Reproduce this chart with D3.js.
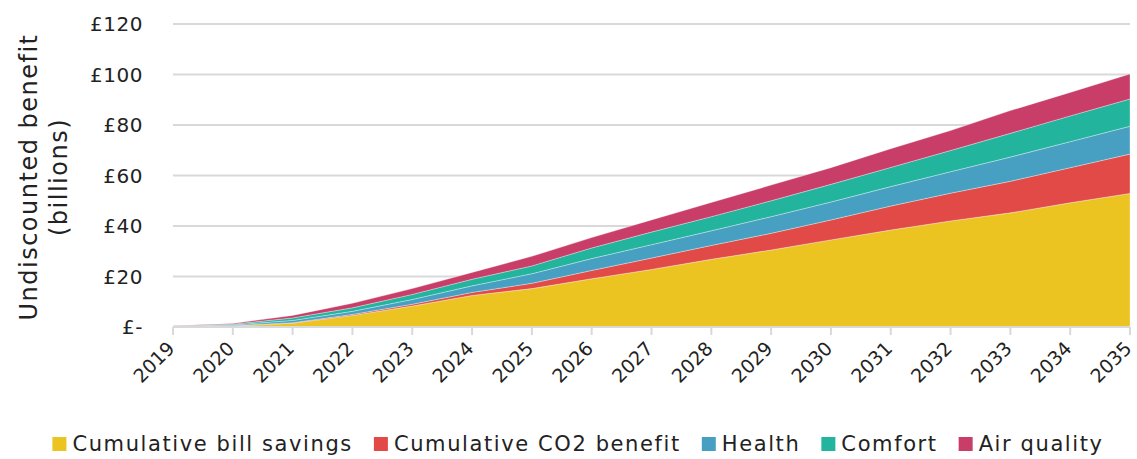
<!DOCTYPE html>
<html>
<head>
<meta charset="utf-8">
<script src="https://cdn.jsdelivr.net/npm/d3@7"></script>
<style>
  body { margin: 0; background: #fff; }
  text { font-family: "DejaVu Sans", sans-serif; fill: #222; }
</style>
</head>
<body>
<svg id="chart" width="1137" height="459"></svg>
<script>
var years = [2019, 2020, 2021, 2022, 2023, 2024, 2025, 2026, 2027, 2028, 2029, 2030, 2031, 2032, 2033, 2034, 2035];

var billSavings = [0.1, 0.4, 1.5, 4.6, 8.3, 12.5, 15.2, 19.1, 22.8, 26.8, 30.5, 34.5, 38.4, 42.0, 45.2, 49.2, 52.9];
var co2Benefit  = [0.05, 0.1, 0.2, 0.4, 0.7, 1.2, 2.1, 3.3, 4.5, 5.5, 6.6, 7.9, 9.5, 11.0, 12.5, 13.9, 15.6];
var health      = [0.1, 0.3, 0.9, 1.2, 1.9, 2.6, 3.8, 4.7, 5.3, 5.8, 6.6, 7.1, 7.7, 8.5, 9.6, 10.3, 11.0];
var comfort     = [0.1, 0.3, 1.0, 1.4, 2.0, 2.6, 3.1, 4.2, 5.0, 5.6, 6.3, 7.0, 7.6, 8.4, 9.4, 10.2, 10.8];
var airQuality  = [0.1, 0.3, 1.0, 1.8, 2.3, 2.7, 3.8, 4.1, 4.8, 5.6, 6.2, 6.6, 7.4, 7.9, 9.0, 9.3, 9.9];

var seriesNames = ["Cumulative bill savings", "Cumulative CO2 benefit", "Health", "Comfort", "Air quality"];
var seriesColors = ["#EBC421", "#E24A48", "#47A0C2", "#23B49D", "#C83E68"];
var yTicks = [0, 20, 40, 60, 80, 100, 120];

var svg = d3.select("#chart");
var margin = {left: 173, right: 7, top: 24, bottom: 132};
var width = 1137 - margin.left - margin.right;
var height = 459 - margin.top - margin.bottom;

var g = svg.append("g").attr("transform", "translate(" + margin.left + "," + margin.top + ")");

var x = d3.scaleLinear().domain([2019, 2035]).range([0, width]);
var y = d3.scaleLinear().domain([0, 120]).range([height, 0]);

// build rows for the stack
var keys = ["bill", "co2", "health", "comfort", "air"];
var rows = years.map(function(yr, i) {
  return {year: yr, bill: billSavings[i], co2: co2Benefit[i], health: health[i], comfort: comfort[i], air: airQuality[i]};
});
var stacked = d3.stack().keys(keys)(rows);

// gridlines
g.append("g").selectAll("line")
  .data(yTicks.filter(function(d) { return d > 0; }))
  .enter().append("line")
  .attr("x1", 0).attr("x2", width)
  .attr("y1", function(d) { return y(d); })
  .attr("y2", function(d) { return y(d); })
  .style("stroke", "#d9d9d9")
  .style("stroke-width", 2);

// y labels
g.append("g").selectAll("text")
  .data(yTicks)
  .enter().append("text")
  .attr("x", -30)
  .attr("y", function(d) { return y(d); })
  .attr("dy", "0.35em")
  .attr("text-anchor", "end")
  .style("font-size", "20px")
  .style("letter-spacing", "0.5px")
  .text(function(d) { return d === 0 ? "£-" : "£" + d; });

var area = d3.area()
  .x(function(d) { return x(d.data.year); })
  .y0(function(d) { return y(d[0]); })
  .y1(function(d) { return y(d[1]); });

g.append("g").selectAll("path")
  .data(stacked)
  .enter().append("path")
  .attr("d", area)
  .style("fill", function(d, i) { return seriesColors[i]; })
  .style("stroke", "rgba(255,255,255,0.55)")
  .style("stroke-width", 0.6);

// x axis
var xAxis = g.append("g").attr("transform", "translate(0," + height + ")");
xAxis.append("line")
  .attr("x1", 0).attr("x2", width)
  .style("stroke", "#d9d9d9").style("stroke-width", 2);
xAxis.selectAll("line.tick")
  .data(years)
  .enter().append("line")
  .attr("class", "tick")
  .attr("x1", function(d) { return x(d); })
  .attr("x2", function(d) { return x(d); })
  .attr("y1", 0).attr("y2", 8)
  .style("stroke", "#d9d9d9").style("stroke-width", 2);
xAxis.selectAll("text")
  .data(years)
  .enter().append("text")
  .attr("text-anchor", "end")
  .attr("transform", function(d) { return "translate(" + (x(d) - 2) + ",18) rotate(-45)"; })
  .attr("dy", "0.35em")
  .style("font-size", "19px")
  .text(function(d) { return d; });

// y title
var title = svg.append("text")
  .attr("transform", "translate(37,177) rotate(-90)")
  .attr("text-anchor", "middle")
  .style("font-size", "24px")
  .style("letter-spacing", "1.5px");
title.append("tspan").attr("x", 0).attr("dy", 0).text("Undiscounted benefit");
title.append("tspan").attr("x", 0).attr("dy", 30).text("(billions)");

// legend
var legend = svg.append("g");
var lx = 0;
seriesNames.forEach(function(name, i) {
  var item = legend.append("g").attr("transform", "translate(" + lx + ",0)");
  item.append("rect").attr("x", 0).attr("y", -7).attr("width", 14).attr("height", 14)
    .style("fill", seriesColors[i]);
  var t = item.append("text").attr("x", 20).attr("dy", "0.35em")
    .style("font-size", "21px").style("letter-spacing", "1.6px").text(name);
  lx += 20 + t.node().getComputedTextLength() + 21;
});
lx -= 21;
legend.attr("transform", "translate(" + (578 - lx / 2) + ",444)");
</script>
</body>
</html>
